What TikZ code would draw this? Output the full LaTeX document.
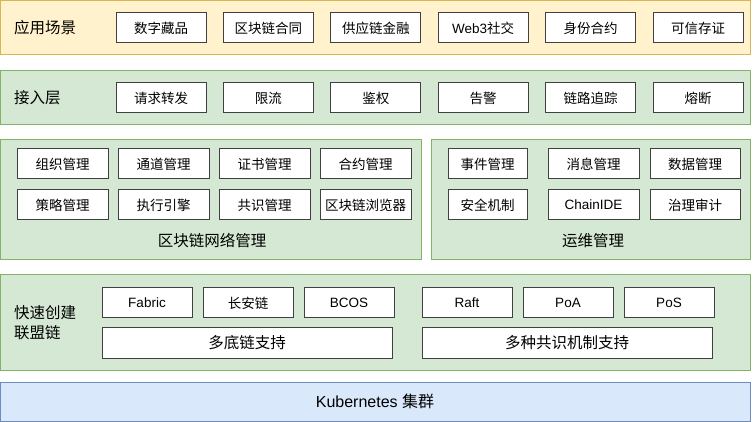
\documentclass[tikz,border=0pt]{standalone}
\usepackage{fontspec}
\setmainfont{Liberation Sans}
\newfontfamily\lat{Liberation Sans}
\newfontfamily\cjk{Noto Sans CJK SC}
\usetikzlibrary{positioning}

\definecolor{appfill}{HTML}{FFF2CC}
\definecolor{appline}{HTML}{D6B656}
\definecolor{layerfill}{HTML}{D5E8D4}
\definecolor{layerline}{HTML}{82B366}
\definecolor{kubefill}{HTML}{DAE8FC}
\definecolor{kubeline}{HTML}{6C8EBF}

\begin{document}
\begin{tikzpicture}[
    x=1pt, y=-1pt,
    node distance=10pt and 16.4pt,
    item/.style={rectangle, draw=black!75, fill=white, line width=1pt, minimum width=90pt, minimum height=30pt, inner sep=0pt, font=\fontsize{13.5}{16}\selectfont\cjk},
    latin/.style={font=\fontsize{13.5}{16}\selectfont\lat},
    wide/.style={minimum width=290pt, font=\fontsize{15.5}{18}\selectfont\cjk},
    layertitle/.style={anchor=west, inner sep=0pt, align=left, font=\fontsize{15.5}{20}\selectfont\cjk},
    panetitle/.style={inner sep=0pt, font=\fontsize{15.5}{18}\selectfont\cjk},
    band/.style={line width=1pt}
]
\useasboundingbox (0,0) rectangle (753,422);

% Layer backgrounds
\draw[band, draw=appline, fill=appfill] (0.5,0.5) rectangle (750.5,55);
\draw[band, draw=layerline, fill=layerfill] (0.5,71) rectangle (750.5,125);
\draw[band, draw=layerline, fill=layerfill] (0.5,140) rectangle (421.5,260);
\draw[band, draw=layerline, fill=layerfill] (431,140) rectangle (750.5,260);
\draw[band, draw=layerline, fill=layerfill] (0.5,275) rectangle (750.5,370);
\draw[band, draw=kubeline, fill=kubefill] (0.5,382) rectangle (750.5,421);

% Application layer
\node[layertitle] (applabel) at (14,28) {应用场景};
\node[item] (app1) at (161,28) {数字藏品};
\node[item, right=of app1] (app2) {区块链合同};
\node[item, right=of app2] (app3) {供应链金融};
\node[item, right=of app3] (app4) {{\lat Web3}社交};
\node[item, right=of app4] (app5) {身份合约};
\node[item, right=of app5] (app6) {可信存证};

% Access layer
\node[layertitle] (accesslabel) at (14,98) {接入层};
\node[item] (access1) at (161,98) {请求转发};
\node[item, right=of access1] (access2) {限流};
\node[item, right=of access2] (access3) {鉴权};
\node[item, right=of access3] (access4) {告警};
\node[item, right=of access4] (access5) {链路追踪};
\node[item, right=of access5] (access6) {熔断};

% Network management
\node[item, minimum width=91pt] (net1) at (62.5,164) {组织管理};
\node[item, minimum width=91pt, right=9pt of net1] (net2) {通道管理};
\node[item, minimum width=91pt, right=9pt of net2] (net3) {证书管理};
\node[item, minimum width=91pt, right=9pt of net3] (net4) {合约管理};
\node[item, minimum width=91pt, below=of net1] (net5) {策略管理};
\node[item, minimum width=91pt, below=of net2] (net6) {执行引擎};
\node[item, minimum width=91pt, below=of net3] (net7) {共识管理};
\node[item, minimum width=91pt, below=of net4] (net8) {区块链浏览器};
\node[panetitle] (nettitle) at (212,241) {区块链网络管理};

% Operations
\node[item, minimum width=79pt] (ops1) at (487.5,164) {事件管理};
\node[item, minimum width=91pt, right=20pt of ops1] (ops2) {消息管理};
\node[item, right=10pt of ops2] (ops3) {数据管理};
\node[item, minimum width=79pt, below=of ops1] (ops4) {安全机制};
\node[item, minimum width=91pt, below=of ops2, latin] (ops5) {ChainIDE};
\node[item, below=of ops3] (ops6) {治理审计};
\node[panetitle] (opstitle) at (593,241) {运维管理};

% Consortium chains
\node[layertitle] (chainlabel) at (14,323) {快速创建\\联盟链};
\node[item, latin] (chain1) at (147,303) {Fabric};
\node[item, right=10pt of chain1] (chain2) {长安链};
\node[item, right=10pt of chain2, latin] (chain3) {BCOS};
\node[item, wide] (multichain) at (247,343) {多底链支持};
\node[item, latin] (cons1) at (467,303) {Raft};
\node[item, right=10pt of cons1, latin] (cons2) {PoA};
\node[item, right=10pt of cons2, latin] (cons3) {PoS};
\node[item, wide] (multicons) at (567,343) {多种共识机制支持};

% Kubernetes
\node[inner sep=0pt, font=\fontsize{16}{19}\selectfont\lat] (kube) at (375,401.5) {Kubernetes {\cjk 集群}};
\end{tikzpicture}
\end{document}
